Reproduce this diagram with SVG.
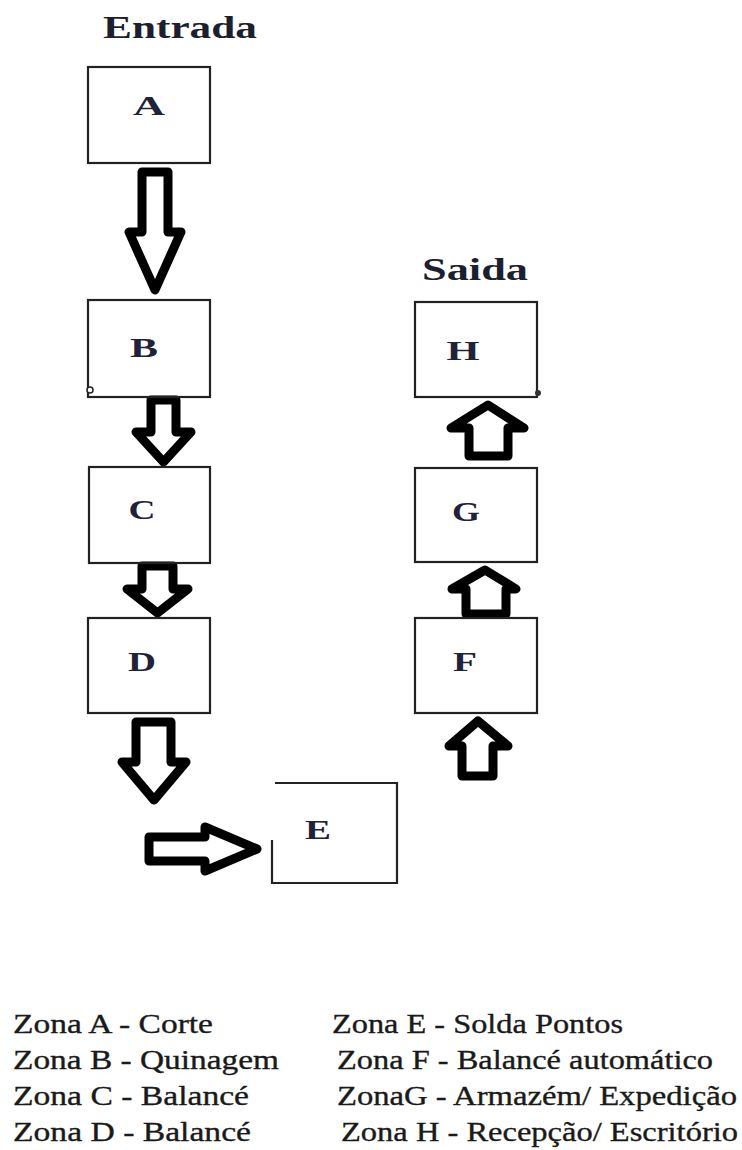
<svg xmlns="http://www.w3.org/2000/svg" width="742" height="1150" viewBox="0 0 742 1150">
<style>
.box{fill:none;stroke:#222;stroke-width:2.2}
.lbl{font-family:"Liberation Serif","Times New Roman",serif;font-weight:bold;font-size:27px;fill:#1f2238;text-anchor:middle}
.ttl{font-family:"Liberation Serif","Times New Roman",serif;font-weight:bold;font-size:31px;fill:#1c1f30}
.leg{font-family:"Liberation Serif","Times New Roman",serif;font-size:27.5px;fill:#1a1a1a;stroke:#1a1a1a;stroke-width:0.35}
.arr{fill:#fff;stroke:#000;stroke-width:9;stroke-linejoin:round}
</style>
<rect width="742" height="1150" fill="#fff"/>
<text class="ttl" x="103" y="38" textLength="154" lengthAdjust="spacingAndGlyphs">Entrada</text>
<text class="ttl" x="422" y="280" textLength="106" lengthAdjust="spacingAndGlyphs">Saida</text>

<g id="connectors">
<path class="arr" d="M142,172 H168 V232 H181 L155,290 L129,232 H142 Z"/>
<path class="arr" d="M151,400 H176 V432 H191 L163.5,462 L136,432 H151 Z"/>
<path class="arr" d="M142,566 H173 V589 H188 L157.5,613 L127,589 H142 Z"/>
<path class="arr" d="M136,722 H171 V762 H186 L154,800 L122,762 H136 Z"/>
<path class="arr" d="M149,837 H205 V827 L257,849 L205,871 V861 H149 Z"/>
<path class="arr" d="M469,456 V428 H451 L488,405 L524,428 H508 V456 Z"/>
<path class="arr" d="M466,614 V589 H452 L485,570 L516,589 H506 V614 Z"/>
<path class="arr" d="M462,776 V746 H449 L478,721 L508,746 H493 V776 Z"/>
</g>

<g id="node-A"><rect class="box" x="88" y="67" width="122" height="96"/><text class="lbl" x="149" y="115" textLength="32" lengthAdjust="spacingAndGlyphs">A</text></g>
<g id="node-B"><rect class="box" x="88" y="300" width="122" height="97"/><circle cx="90" cy="390" r="3" fill="#fff" stroke="#222" stroke-width="1.5"/><text class="lbl" x="144" y="357" textLength="28" lengthAdjust="spacingAndGlyphs">B</text></g>
<g id="node-C"><rect class="box" x="89" y="467" width="121" height="96"/><text class="lbl" x="142" y="519" textLength="27" lengthAdjust="spacingAndGlyphs">C</text></g>
<g id="node-D"><rect class="box" x="88" y="618" width="122" height="95"/><text class="lbl" x="142" y="671" textLength="28" lengthAdjust="spacingAndGlyphs">D</text></g>
<g id="node-E"><path class="box" d="M275,783 H397 V883 H272 V840"/><text class="lbl" x="318" y="839" textLength="26" lengthAdjust="spacingAndGlyphs">E</text></g>
<g id="node-H"><rect class="box" x="415" y="302" width="122" height="95"/><circle cx="538" cy="393" r="3" fill="#333"/><text class="lbl" x="463" y="360" textLength="33" lengthAdjust="spacingAndGlyphs">H</text></g>
<g id="node-G"><rect class="box" x="415" y="468" width="122" height="94"/><text class="lbl" x="466" y="521" textLength="28" lengthAdjust="spacingAndGlyphs">G</text></g>
<g id="node-F"><rect class="box" x="415" y="618" width="122" height="95"/><text class="lbl" x="465" y="671" textLength="24" lengthAdjust="spacingAndGlyphs">F</text></g>

<g id="legend">
<text class="leg" x="13" y="1033" textLength="200" lengthAdjust="spacingAndGlyphs">Zona A - Corte</text>
<text class="leg" x="13" y="1069" textLength="266" lengthAdjust="spacingAndGlyphs">Zona B - Quinagem</text>
<text class="leg" x="13" y="1105" textLength="236" lengthAdjust="spacingAndGlyphs">Zona C - Balancé</text>
<text class="leg" x="13" y="1141" textLength="238" lengthAdjust="spacingAndGlyphs">Zona D - Balancé</text>
<text class="leg" x="332" y="1033" textLength="291" lengthAdjust="spacingAndGlyphs">Zona E - Solda Pontos</text>
<text class="leg" x="337" y="1069" textLength="376" lengthAdjust="spacingAndGlyphs">Zona F - Balancé automático</text>
<text class="leg" x="337" y="1105" textLength="400" lengthAdjust="spacingAndGlyphs">ZonaG - Armazém/ Expedição</text>
<text class="leg" x="341" y="1141" textLength="397" lengthAdjust="spacingAndGlyphs">Zona H - Recepção/ Escritório</text>
</g>
</svg>
